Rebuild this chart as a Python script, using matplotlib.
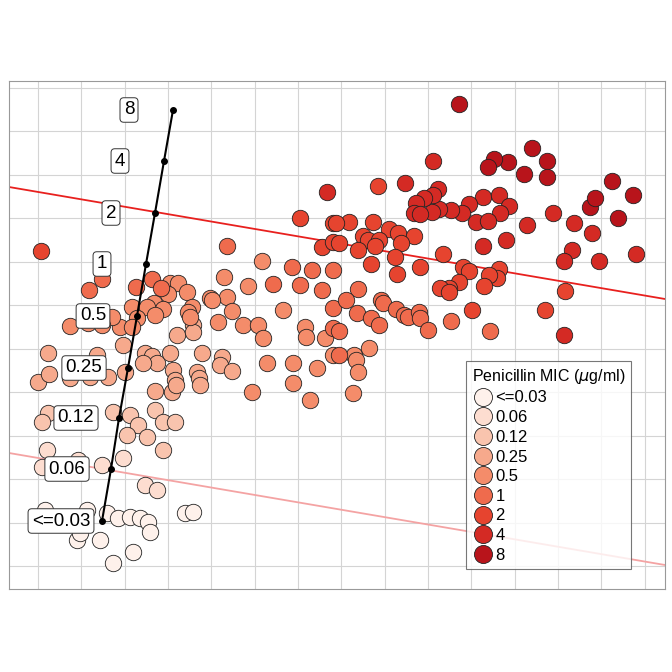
import matplotlib
matplotlib.use("Agg")
import matplotlib.pyplot as plt
from matplotlib.lines import Line2D

plt.rcParams['font.family'] = ['Liberation Sans', 'DejaVu Sans']

# values in panel pixel units (y grows downward)
mic_labels = ['<=0.03', '0.06', '0.12', '0.25', '0.5', '1', '2', '4', '8']
mic_colors = ['#FEF1EB', '#FDDDD0', '#F9C4AE', '#F6A98C', '#F48C6A',
              '#EF6B4D', '#E6442F', '#D42A24', '#B8141B']

pts = {
    '<=0.03': [(45, 510), (87, 510), (77, 540), (80, 533), (100, 540), (107, 513), (118, 518),
               (130, 517), (140, 518), (148, 522), (150, 532), (133, 552), (113, 563),
               (185, 513), (193, 512)],
    '0.06': [(47, 450), (42, 467), (78, 460), (102, 465), (123, 458), (145, 485), (157, 490)],
    '0.12': [(48, 413), (42, 422), (113, 412), (130, 415), (138, 425), (127, 435), (147, 437),
             (155, 410), (163, 422), (175, 422), (163, 450)],
    '0.25': [(123, 345), (177, 335), (193, 325), (193, 332), (202, 353), (222, 357), (220, 365),
             (232, 371), (145, 353), (152, 356), (157, 363), (170, 353), (143, 363), (125, 372),
             (173, 370), (175, 380), (172, 392), (176, 385), (155, 391), (197, 372), (199, 378),
             (200, 385), (48, 353), (38, 382), (49, 374), (70, 378), (90, 377), (108, 377),
             (97, 355)],
    '0.5': [(170, 283), (178, 283), (168, 294), (187, 292), (262, 261), (224, 277), (248, 286),
            (227, 297), (192, 307), (210, 298), (212, 300), (232, 311), (154, 303), (163, 309),
            (218, 322), (188, 312), (190, 317), (243, 325), (258, 325), (263, 338), (283, 310),
            (305, 327), (306, 337), (325, 338), (267, 363), (293, 363), (317, 368), (293, 383),
            (310, 400), (252, 392), (132, 307), (147, 307), (155, 315), (137, 318), (120, 327),
            (132, 327), (112, 317), (70, 326), (88, 323), (102, 325), (333, 355), (354, 355),
            (356, 360), (369, 348), (358, 372), (353, 393)],
    '1': [(89, 290), (102, 279), (136, 287), (152, 279), (161, 288), (227, 246), (292, 267),
          (312, 270), (273, 284), (300, 285), (322, 290), (333, 270), (333, 308), (333, 328),
          (358, 289), (346, 300), (357, 313), (371, 318), (379, 325), (381, 300), (383, 303),
          (396, 309), (404, 315), (408, 317), (419, 312), (420, 318), (428, 330), (451, 321),
          (490, 331), (339, 331), (339, 355)],
    '2': [(41, 251), (300, 218), (333, 223), (322, 247), (333, 242), (378, 186), (349, 222),
          (336, 223), (373, 222), (389, 229), (398, 233), (414, 236), (363, 236), (368, 240),
          (379, 240), (375, 246), (358, 250), (401, 243), (395, 257), (443, 254), (371, 264),
          (420, 267), (397, 274), (463, 267), (469, 271), (499, 269), (497, 278), (489, 275),
          (484, 286), (459, 282), (449, 288), (440, 288), (449, 292), (472, 310), (545, 310),
          (565, 291), (339, 243)],
    '4': [(327, 192), (433, 161), (405, 183), (483, 197), (499, 195), (509, 206), (500, 213),
          (469, 204), (462, 213), (476, 222), (488, 221), (451, 210), (439, 209), (432, 212),
          (438, 189), (433, 195), (424, 198), (416, 203), (414, 213), (420, 214), (527, 225),
          (553, 213), (574, 223), (592, 233), (572, 250), (564, 261), (599, 261), (636, 254),
          (483, 246), (506, 240), (564, 335)],
    '8': [(459, 104), (612, 181), (633, 195), (618, 218), (590, 207), (595, 198), (547, 161),
          (547, 177), (532, 148), (508, 162), (494, 159), (488, 167), (524, 174)],
}

# black MIC guide line and its labels
guide_x = [102, 111, 119, 128, 137, 146, 155, 164, 173]
guide_y = [521, 469, 418, 368, 316, 264, 213, 161, 110]
label_x = [61, 67, 76, 84, 93, 102, 111, 120, 129]

red_line = [(9, 187), (665, 299)]
pink_line = [(9, 453), (665, 565)]

grid_x = [38, 81, 125, 168, 211, 255, 298, 341, 385, 428, 471, 515, 558, 601, 645]
grid_y = [88, 131, 175, 218, 262, 305, 349, 392, 436, 479, 523, 566]

fig = plt.figure(figsize=(6.72, 6.72), dpi=100)
ax = fig.add_axes([9 / 672, (672 - 589) / 672, 656 / 672, 508 / 672])
ax.set_xlim(9, 665)
ax.set_ylim(589, 81)
ax.set_xticks(grid_x)
ax.set_yticks(grid_y)
ax.tick_params(length=0, labelbottom=False, labelleft=False)
ax.grid(color='#d4d4d4', lw=0.8)
ax.set_axisbelow(True)
for s in ax.spines.values():
    s.set_color('#999999')
    s.set_linewidth(0.8)

ax.plot(*zip(*red_line), color='#E8201E', lw=1.3, zorder=1)
ax.plot(*zip(*pink_line), color='#F4A3A3', lw=1.3, zorder=1)

for lab, col in zip(mic_labels, mic_colors):
    xs = [p[0] for p in pts[lab]]
    ys = [p[1] for p in pts[lab]]
    ax.scatter(xs, ys, s=140, color=col, edgecolor='#222222', linewidth=0.6, zorder=2)

ax.plot(guide_x, guide_y, color='black', lw=1.5, marker='o', ms=4, zorder=4)
for lx, gy, lab in zip(label_x, guide_y, mic_labels):
    ax.text(lx, gy, lab, ha='center', va='center', fontsize=13.5, zorder=5,
            bbox=dict(boxstyle='round,pad=0.2', fc='white', ec='#333333', lw=0.7))

handles = [Line2D([], [], ls='', marker='o', ms=13, mfc=c, mec='#222222', mew=0.6)
           for c in mic_colors]
leg = ax.legend(handles, mic_labels, title='Penicillin MIC ($\\mu$g/ml)', loc='lower left',
                bbox_to_anchor=(458 / 672, (672 - 577) / 672), bbox_transform=fig.transFigure,
                fontsize=12, title_fontsize=11.5, frameon=True, fancybox=False,
                edgecolor='#555555', handletextpad=0.1, labelspacing=0.28,
                borderpad=0.35, handlelength=1.3)
leg.get_frame().set_linewidth(0.8)
leg._legend_box.align = 'left'

fig.savefig('out.png', dpi=100)
